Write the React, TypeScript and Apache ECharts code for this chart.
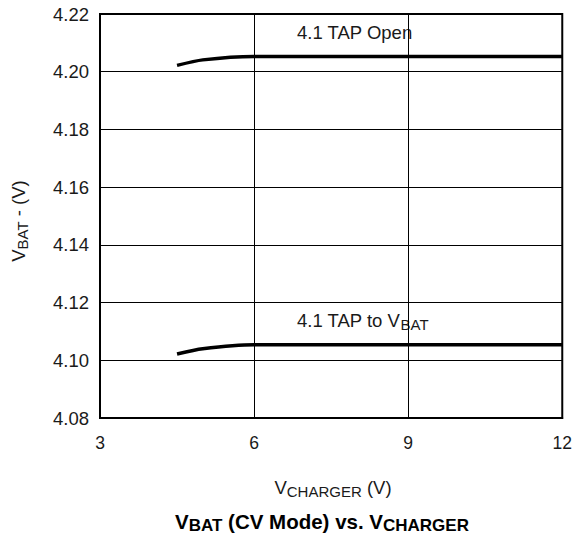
import React, { useEffect, useRef } from "react";
import * as echarts from "echarts";

const xTicks = [3, 6, 9, 12];
const yTicks = [4.08, 4.1, 4.12, 4.14, 4.16, 4.18, 4.2, 4.22];
const vCharger = [4.5, 5, 6, 7, 8, 9, 10, 11, 12];
const tapOpen = [4.2022, 4.2041, 4.2053, 4.2053, 4.2053, 4.2053, 4.2053, 4.2053, 4.2053];
const tapToVbat = [4.1022, 4.104, 4.1054, 4.1054, 4.1054, 4.1054, 4.1054, 4.1054, 4.1054];
const seriesNames = ["4.1 TAP Open", "4.1 TAP to VBAT"];

const FONT = "'Liberation Sans', Arial, Helvetica, sans-serif";
const TXT = "#1a1a1a";

export default function App() {
  const ref = useRef<HTMLDivElement>(null);
  useEffect(() => {
    if (!ref.current) return;
    const chart = echarts.init(ref.current, undefined, { renderer: "svg" });
    const mk = (ys: number[]) => vCharger.map((x, i) => [x, ys[i]]);
    const normal = { fontSize: 18.5, fontFamily: FONT, fill: TXT };
    const sub = { fontSize: 15, fontFamily: FONT, fill: TXT, padding: [8, 0, 0, 0] };
    chart.setOption({
      animation: false,
      backgroundColor: "#fff",
      grid: {
        left: 100,
        top: 14,
        width: 463,
        height: 404,
        show: true,
        borderColor: "#000",
        borderWidth: 2,
        containLabel: false,
      },
      xAxis: {
        type: "value",
        min: xTicks[0],
        max: xTicks[xTicks.length - 1],
        interval: 3,
        axisLine: { show: true, lineStyle: { color: "#000", width: 2 } },
        axisTick: { show: false },
        splitLine: { show: true, lineStyle: { color: "#000", width: 1 } },
        axisLabel: { color: TXT, fontSize: 17.5, fontFamily: FONT, margin: 16 },
      },
      yAxis: {
        type: "value",
        min: yTicks[0],
        max: yTicks[yTicks.length - 1],
        interval: 0.02,
        axisLine: { show: true, lineStyle: { color: "#000", width: 2 } },
        axisTick: { show: false },
        splitLine: { show: true, lineStyle: { color: "#000", width: 1 } },
        axisLabel: {
          color: TXT,
          fontSize: 18.5,
          fontFamily: FONT,
          margin: 11,
          formatter: (v: number) => v.toFixed(2),
        },
      },
      series: [
        {
          name: seriesNames[0],
          type: "line",
          data: mk(tapOpen),
          showSymbol: false,
          smooth: 0.25,
          lineStyle: { color: "#000", width: 3.5 },
        },
        {
          name: seriesNames[1],
          type: "line",
          data: mk(tapToVbat),
          showSymbol: false,
          smooth: 0.25,
          lineStyle: { color: "#000", width: 3.5 },
        },
      ],
      graphic: [
        {
          type: "text",
          left: 297,
          top: 23,
          style: { text: "4.1 TAP Open", font: `18.5px ${FONT}`, fill: TXT },
        },
        {
          type: "text",
          left: 297,
          top: 311,
          style: {
            text: "{n|4.1 TAP to V}{s|BAT}",
            fill: TXT,
            rich: { n: normal, s: sub },
          },
        },
        {
          type: "text",
          x: 18,
          y: 221,
          rotation: Math.PI / 2,
          style: {
            text: "{n|V}{s|BAT}{n| - (V)}",
            align: "center",
            verticalAlign: "middle",
            fill: TXT,
            rich: { n: normal, s: sub },
          },
        },
        {
          type: "text",
          x: 333,
          y: 487,
          style: {
            text: "{n|V}{s|CHARGER}{n| (V)}",
            align: "center",
            verticalAlign: "middle",
            fill: TXT,
            rich: { n: normal, s: sub },
          },
        },
        {
          type: "text",
          x: 322,
          y: 521,
          style: {
            text: "{n|V}{s|BAT}{n| (CV Mode) vs. V}{s|CHARGER}",
            align: "center",
            verticalAlign: "middle",
            fill: "#000",
            rich: {
              n: { fontSize: 20.5, fontWeight: "bold", fontFamily: FONT, fill: "#000" },
              s: { fontSize: 17, fontWeight: "bold", fontFamily: FONT, fill: "#000", padding: [8, 0, 0, 0] },
            },
          },
        },
      ],
    });
    return () => chart.dispose();
  }, []);
  return (
    <div
      ref={ref}
      style={{ position: "absolute", left: 0, top: 0, width: 575, height: 538 }}
    />
  );
}
